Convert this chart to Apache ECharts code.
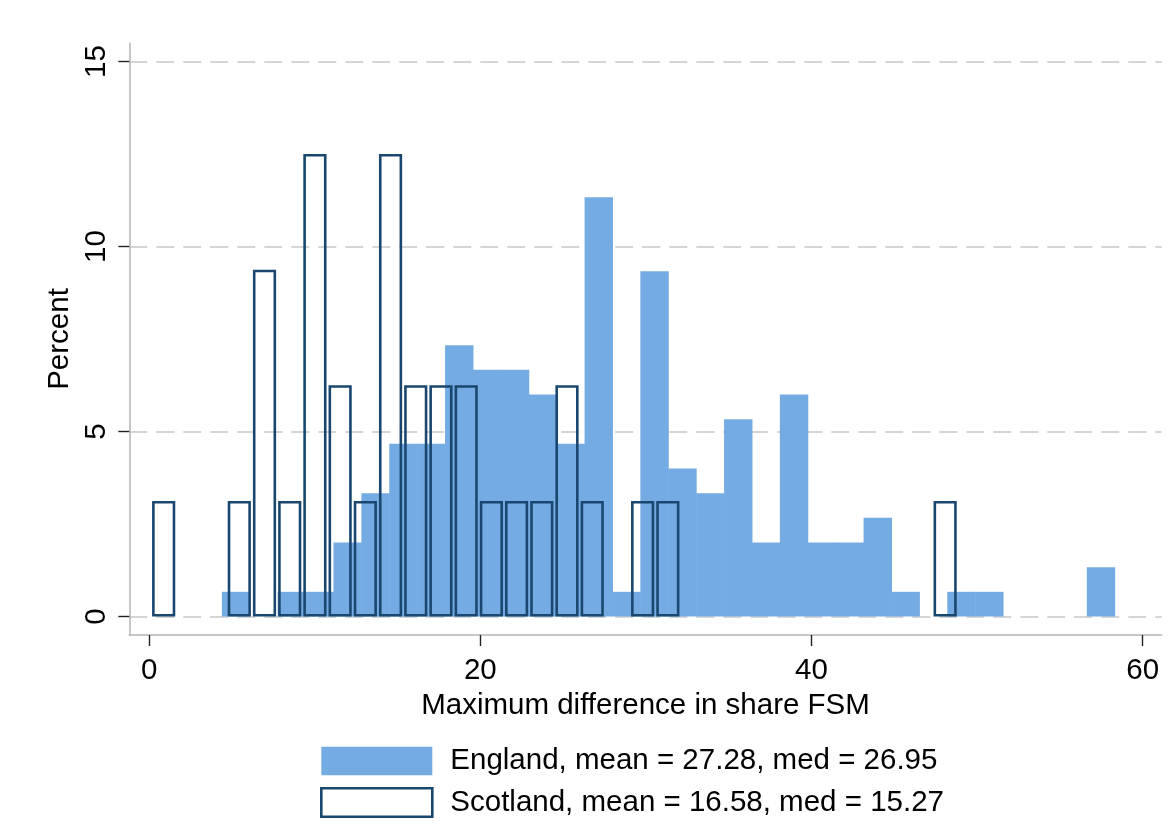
<!DOCTYPE html>
<html>
<head>
<meta charset="utf-8">
<script src="https://cdn.jsdelivr.net/npm/echarts@6/dist/echarts.min.js"></script>
<style>
  html, body { margin: 0; padding: 0; background: #fff; }
  #chart { width: 1173px; height: 832px; }
</style>
</head>
<body>
<div id="chart"></div>
<script>
// ---- Data ----
const englandLabel = 'England, mean = 27.28, med = 26.95';
const scotlandLabel = 'Scotland, mean = 16.58, med = 15.27';

// England: 32 bins starting at 4.39, width 1.685 (percent of 150 obs)
const englandBinStart = 4.39;
const englandBinWidth = 1.685;
const englandPercent = [0.667, 0, 0.667, 0.667, 2, 3.333, 4.667, 4.667,
  7.333, 6.667, 6.667, 6, 4.667, 11.333, 0.667, 9.333,
  4, 3.333, 5.333, 2, 6, 2, 2, 2.667,
  0.667, 0, 0.667, 0.667, 0, 0, 0, 1.333];

// Scotland: 32 bins starting at 0.115, width 1.5224 (percent of 32 obs)
const scotlandBinStart = 0.115;
const scotlandBinWidth = 1.5224;
const scotlandPercent = [3.125, 0, 0, 3.125, 9.375, 3.125, 12.5, 6.25,
  3.125, 12.5, 6.25, 6.25, 6.25, 3.125, 3.125, 3.125,
  6.25, 3.125, 0, 3.125, 3.125, 0, 0, 0,
  0, 0, 0, 0, 0, 0, 0, 3.125];

const xTicks = [0, 20, 40, 60];
const yTicks = [0, 5, 10, 15];
const xTitle = 'Maximum difference in share FSM';
const yTitle = 'Percent';

// ---- Styles ----
const FONT = 'Liberation Sans, Arial, sans-serif';
const FS = 29.5;
const ENG_COLOR = '#74ABE2';
const SCOT_COLOR = '#1A476F';
const SCOT_LW = 2.6;
const SCOT_INSET = 2.3;
const AXIS_GRAY = '#b5b5b5';

function bins(start, width, values) {
  return values.map((v, i) => [start + i * width, start + (i + 1) * width, v]);
}

const chart = echarts.init(document.getElementById('chart'), null, { renderer: 'canvas' });

const option = {
  backgroundColor: '#fff',
  animation: false,
  textStyle: { fontFamily: FONT },
  grid: { left: 129.3, right: 11.3, top: 43, bottom: 197, containLabel: false },
  xAxis: {
    type: 'value',
    min: -1.2,
    max: 61.15,
    name: xTitle,
    nameLocation: 'middle',
    nameGap: 52,
    nameTextStyle: { fontSize: FS, color: '#000', fontFamily: FONT },
    axisLine: { show: true, onZero: false, lineStyle: { color: AXIS_GRAY, width: 1.5 } },
    axisTick: { show: true, length: 11, customValues: xTicks, lineStyle: { color: '#222', width: 1.4 } },
    axisLabel: { customValues: xTicks, fontSize: FS, color: '#000', margin: 21, fontFamily: FONT },
    splitLine: { show: false }
  },
  yAxis: {
    type: 'value',
    min: -0.5,
    max: 15.5,
    name: yTitle,
    nameLocation: 'middle',
    nameGap: 42,
    nameRotate: 90,
    nameTextStyle: { fontSize: FS, color: '#000', fontFamily: FONT },
    axisLine: { show: true, onZero: false, lineStyle: { color: AXIS_GRAY, width: 1.5 } },
    axisTick: { show: true, length: 11, customValues: yTicks, lineStyle: { color: '#222', width: 1.4 } },
    axisLabel: { customValues: yTicks, rotate: 90, fontSize: FS, color: '#000', margin: 17, fontFamily: FONT },
    splitLine: { show: true, lineStyle: { color: '#c8c8c8', width: 1.5, type: [18, 9] } }
  },
  legend: {
    orient: 'vertical',
    left: 315,
    top: 741,
    padding: 5,
    itemWidth: 111,
    itemHeight: 28.5,
    itemGap: 11,
    selectedMode: false,
    textStyle: { fontSize: FS, color: '#000', fontFamily: FONT, padding: [0, 0, 0, 13] },
    data: [
      { name: englandLabel, icon: 'rect', itemStyle: { color: ENG_COLOR, borderWidth: 0 } },
      { name: scotlandLabel, icon: 'rect', itemStyle: { color: '#fff', borderColor: SCOT_COLOR, borderWidth: SCOT_LW } }
    ]
  },
  series: [
    {
      name: englandLabel,
      type: 'custom',
      z: 3,
      itemStyle: { color: ENG_COLOR },
      encode: { x: [0, 1], y: 2 },
      data: bins(englandBinStart, englandBinWidth, englandPercent),
      renderItem: function (params, api) {
        const v = api.value(2);
        if (!v) return null;
        const p0 = api.coord([api.value(0), v]);
        const p1 = api.coord([api.value(1), 0]);
        return {
          type: 'rect',
          shape: { x: p0[0], y: p0[1], width: p1[0] - p0[0] + 0.5, height: p1[1] - p0[1] },
          style: { fill: ENG_COLOR }
        };
      }
    },
    {
      name: scotlandLabel,
      type: 'custom',
      z: 4,
      itemStyle: { color: '#fff', borderColor: SCOT_COLOR },
      encode: { x: [0, 1], y: 2 },
      data: bins(scotlandBinStart, scotlandBinWidth, scotlandPercent),
      renderItem: function (params, api) {
        const v = api.value(2);
        if (!v) return null;
        const p0 = api.coord([api.value(0), v]);
        const p1 = api.coord([api.value(1), 0]);
        const h = SCOT_LW / 2;
        return {
          type: 'rect',
          shape: {
            x: p0[0] + SCOT_INSET,
            y: p0[1] + h,
            width: (p1[0] - p0[0]) - 2 * SCOT_INSET,
            height: (p1[1] - p0[1]) - 2 * h
          },
          style: { fill: null, stroke: SCOT_COLOR, lineWidth: SCOT_LW }
        };
      }
    }
  ]
};

chart.setOption(option);
</script>
</body>
</html>
